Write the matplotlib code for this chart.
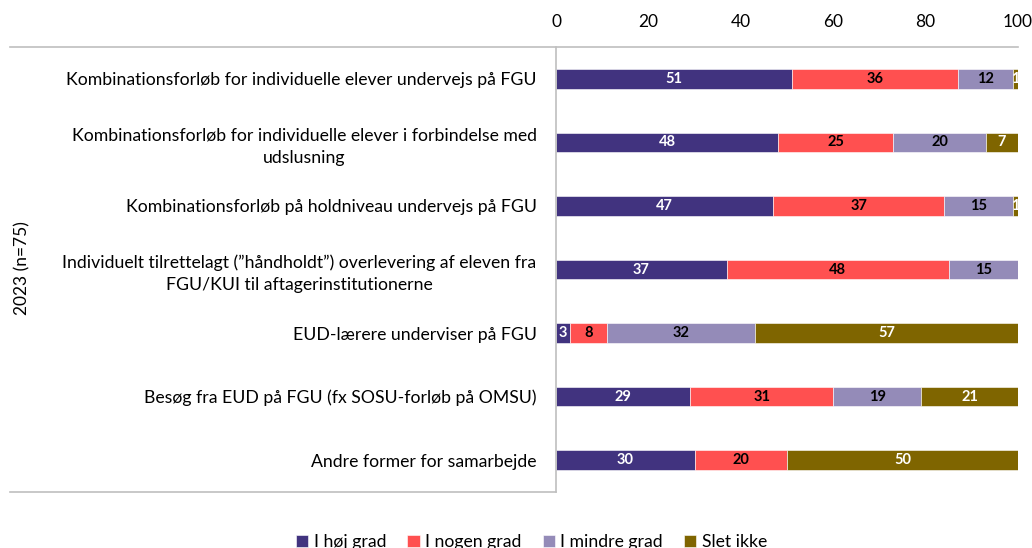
import matplotlib.pyplot as plt
from matplotlib.lines import Line2D

categories = [
    "Kombinationsforløb for individuelle elever undervejs på FGU",
    "Kombinationsforløb for individuelle elever i forbindelse med\nudslusning",
    "Kombinationsforløb på holdniveau undervejs på FGU",
    "Individuelt tilrettelagt (\u201dhåndholdt\u201d) overlevering af eleven fra\nFGU/KUI til aftagerinstitutionerne",
    "EUD-lærere underviser på FGU",
    "Besøg fra EUD på FGU (fx SOSU-forløb på OMSU)",
    "Andre former for samarbejde",
]
series_names = ["I høj grad", "I nogen grad", "I mindre grad", "Slet ikke"]
hoej = [51, 48, 47, 37, 3, 29, 30]
nogen = [36, 25, 37, 48, 8, 31, 20]
mindre = [12, 20, 15, 15, 32, 19, 0]
slet = [1, 7, 1, 0, 57, 21, 50]
group_label = "2023 (n=75)"

colors = ["#41337f", "#ff5050", "#948bb8", "#7f6500"]
text_colors = ["white", "black", "black", "white"]

plt.rcParams["font.family"] = ["Lato", "DejaVu Sans"]

fig = plt.figure(figsize=(10.32, 5.48), dpi=100)
ax = fig.add_axes([0.5388, 0.1022, 0.4476, 0.812])

ypos = list(range(len(categories)))
left = [0] * len(categories)
for name, vals, col, tcol in zip(series_names, [hoej, nogen, mindre, slet], colors, text_colors):
    bars = ax.barh(ypos, vals, left=left, height=0.31, color=col, label=name,
                   edgecolor="white", linewidth=0.4)
    for b, v in zip(bars, vals):
        if v > 0:
            ax.text(b.get_x() + b.get_width() / 2, b.get_y() + b.get_height() / 2,
                    str(v), ha="center", va="center", color=tcol,
                    fontsize=10.5, fontweight="bold")
    left = [l + v for l, v in zip(left, vals)]

ax.set_xlim(0, 100)
ax.set_ylim(6.5, -0.5)
ax.set_xticks([0, 20, 40, 60, 80, 100])
ax.xaxis.tick_top()
ax.tick_params(axis="x", length=0, labelsize=12.5, pad=12)
ax.set_yticks(ypos)
ax.set_yticklabels(categories, fontsize=12.7, ha="right")
ax.tick_params(axis="y", length=0, pad=14)
for lbl in ax.get_yticklabels():
    lbl.set_multialignment("center")
    lbl.set_linespacing(1.45)

for s in ["right", "bottom", "top"]:
    ax.spines[s].set_visible(False)
ax.spines["left"].set_color("#bfbfbf")
ax.spines["left"].set_linewidth(1.2)

# table-like frame lines
fig.add_artist(Line2D([10 / 1032, 1018 / 1032], [1 - 47 / 548, 1 - 47 / 548],
                      color="#bfbfbf", linewidth=1.2))
fig.add_artist(Line2D([10 / 1032, 556 / 1032], [1 - 492 / 548, 1 - 492 / 548],
                      color="#bfbfbf", linewidth=1.2))

fig.text(22 / 1032, 0.51, group_label, rotation=90, ha="center", va="center", fontsize=12.5)

fig.legend(loc="center", bbox_to_anchor=(0.515, 1 - 542 / 548), ncol=4, frameon=False,
           fontsize=12.7, handlelength=0.7, handleheight=0.7, handletextpad=0.3,
           columnspacing=1.2)

fig.savefig("out.png", dpi=100)
